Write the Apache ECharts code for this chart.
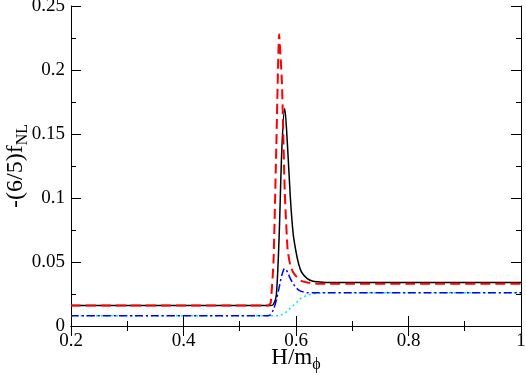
<!DOCTYPE html>
<html>
<head>
<meta charset="utf-8">
<script src="https://cdn.jsdelivr.net/npm/echarts@6/dist/echarts.min.js"></script>
<style>
  html, body { margin: 0; padding: 0; background: #fff; }
  #chart { width: 526px; height: 378px; }
</style>
</head>
<body>
<div id="chart"></div>
<script>
// H/m_phi sample points shared by all curves
var hValues = [0.2, 0.55, 0.555, 0.56, 0.565, 0.57, 0.575, 0.58, 0.585, 0.59, 0.595, 0.6, 0.605, 0.61, 0.62, 0.63, 0.64, 0.66, 0.7, 0.8, 1.0];

var blackSolid = [0.016, 0.016, 0.016, 0.017, 0.024, 0.070, 0.140, 0.170, 0.140, 0.100, 0.072, 0.058, 0.048, 0.042, 0.037, 0.035, 0.0345, 0.034, 0.034, 0.034, 0.034];
var redDashed = [0.016, 0.016, 0.018, 0.050, 0.140, 0.228, 0.190, 0.105, 0.060, 0.047, 0.042, 0.039, 0.037, 0.035, 0.034, 0.0335, 0.033, 0.033, 0.033, 0.033, 0.033];
var blueDashDot = [0.008, 0.008, 0.009, 0.013, 0.020, 0.030, 0.040, 0.045, 0.042, 0.037, 0.033, 0.030, 0.028, 0.027, 0.026, 0.026, 0.026, 0.026, 0.026, 0.026, 0.026];
var cyanDotted = [0.008, 0.008, 0.008, 0.008, 0.008, 0.008, 0.009, 0.010, 0.012, 0.014, 0.016, 0.018, 0.020, 0.022, 0.024, 0.025, 0.0255, 0.026, 0.026, 0.026, 0.026];

var xTicks = [0.2, 0.4, 0.6, 0.8, 1];
var yTicks = [0, 0.05, 0.1, 0.15, 0.2, 0.25];

function pairs(ys) {
    return hValues.map(function (h, i) { return [h, ys[i]]; });
}

var font = 'Liberation Serif';

function frameAxis(extra) {
    var base = {
        type: 'value',
        axisLine: { show: true, lineStyle: { color: '#000', width: 1 } },
        axisTick: { show: true, inside: true, length: 10, lineStyle: { color: '#000' } },
        minorTick: { show: true, splitNumber: 2, length: 5, lineStyle: { color: '#000' } },
        splitLine: { show: false },
        axisLabel: { show: false }
    };
    return Object.assign(base, extra);
}

var chart = echarts.init(document.getElementById('chart'));
chart.setOption({
    animation: false,
    grid: { left: 71, right: 5, top: 6, bottom: 52, containLabel: false, outerBoundsMode: 'none' },
    xAxis: [
        frameAxis({
            min: xTicks[0], max: xTicks[xTicks.length - 1], interval: 0.2,
            axisLabel: { show: true, color: '#000', fontFamily: font, fontSize: 19, margin: 6 },
            name: '{m|H/m}{s|ϕ}',
            nameLocation: 'middle',
            nameGap: 17,
            nameMoveOverlap: false,
            nameTextStyle: {
                rich: {
                    m: { fontFamily: font, fontSize: 23, color: '#000' },
                    s: { fontFamily: font, fontSize: 16, color: '#000', padding: [14, 0, 0, 0] }
                }
            }
        }),
        frameAxis({ position: 'top', min: 0.2, max: 1, interval: 0.2 })
    ],
    yAxis: [
        frameAxis({
            min: yTicks[0], max: yTicks[yTicks.length - 1], interval: 0.05,
            axisLabel: { show: true, color: '#000', fontFamily: font, fontSize: 19, margin: 6 },
            name: '{m|-(6/5)f}{s|NL}',
            nameLocation: 'middle',
            nameGap: 40,
            nameMoveOverlap: false,
            nameTextStyle: {
                rich: {
                    m: { fontFamily: font, fontSize: 24, color: '#000' },
                    s: { fontFamily: font, fontSize: 16, color: '#000', padding: [14, 0, 0, 0] }
                }
            }
        }),
        frameAxis({ position: 'right', min: 0, max: 0.25, interval: 0.05 })
    ],
    series: [
        {
            type: 'line', data: pairs(cyanDotted), showSymbol: false, smooth: 0.3,
            lineStyle: { color: '#00e5ff', width: 1.5, type: [2, 3] }
        },
        {
            type: 'line', data: pairs(blueDashDot), showSymbol: false, smooth: 0.3,
            lineStyle: { color: '#0000ff', width: 1.5, type: [8, 3, 2, 3] }
        },
        {
            type: 'line', data: pairs(blackSolid), showSymbol: false, smooth: 0.3,
            lineStyle: { color: '#000', width: 1.5 }
        },
        {
            type: 'line', data: pairs(redDashed), showSymbol: false, smooth: 0.15,
            lineStyle: { color: '#ff0000', width: 2, type: [10, 5] }
        }
    ]
});
</script>
</body>
</html>
